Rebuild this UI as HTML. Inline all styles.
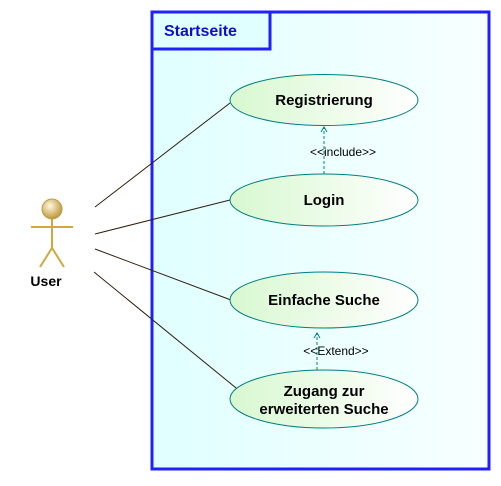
<!DOCTYPE html>
<html><head><style>body{margin:0;background:#fff}</style></head><body>
<svg width="501" height="481" xmlns="http://www.w3.org/2000/svg" font-family="Liberation Sans, Arial, sans-serif">
<defs>
<linearGradient id="g" x1="0" x2="1" y1="0" y2="0"><stop offset="0" stop-color="#d8f8d0"/><stop offset="1" stop-color="#ffffff"/></linearGradient>
<linearGradient id="bg" x1="0" x2="1"><stop offset="0" stop-color="#e0ffff"/><stop offset="1" stop-color="#f8ffff"/></linearGradient>
<radialGradient id="h" cx="0.4" cy="0.35" r="0.7"><stop offset="0" stop-color="#fff8e0"/><stop offset="1" stop-color="#b89030"/></radialGradient>
</defs>
<rect x="152" y="12" width="337" height="457" fill="url(#bg)" stroke="#2020ff" stroke-width="3"/>
<rect x="152" y="12" width="118" height="37" fill="#e0ffff" stroke="#2020ff" stroke-width="3"/>
<text x="164" y="36" font-size="16" font-weight="bold" fill="#1010c0">Startseite</text>
<g stroke="#302010" stroke-width="1">
<line x1="95" y1="207" x2="230" y2="103"/>
<line x1="95" y1="234" x2="230" y2="200"/>
<line x1="95" y1="249" x2="231" y2="300"/>
<line x1="94" y1="272" x2="241" y2="392"/>
</g>
<g stroke="#d0a840" stroke-width="2" fill="none">
<line x1="31" y1="227" x2="73" y2="227"/>
<line x1="52" y1="219" x2="52" y2="248"/>
<polyline points="40,267 52,248 64,267"/>
</g>
<circle cx="52" cy="209" r="10" fill="url(#h)" stroke="#c09a40"/>
<text x="46" y="286" font-size="14" font-weight="bold" text-anchor="middle">User</text>
<g stroke="#008080" stroke-width="1" fill="url(#g)">
<ellipse cx="324" cy="100" rx="94" ry="25.5"/>
<ellipse cx="324" cy="200" rx="94" ry="26"/>
<ellipse cx="324" cy="300" rx="94" ry="28"/>
<ellipse cx="324" cy="399" rx="94" ry="29"/>
</g>
<g stroke="#008080" stroke-dasharray="3,2" fill="none">
<line x1="324" y1="174" x2="324" y2="127"/>
<line x1="317" y1="370" x2="317" y2="333"/>
</g>
<g stroke="#008080" fill="none"><polyline points="321,132 324,127 327,132"/><polyline points="314,338 317,333 320,338"/></g>
<g font-size="12" fill="#000" text-anchor="middle">
<text x="343" y="156">&lt;&lt;include&gt;&gt;</text>
<text x="336" y="355">&lt;&lt;Extend&gt;&gt;</text>
</g>
<g font-size="15" font-weight="bold" text-anchor="middle">
<text x="324" y="105">Registrierung</text>
<text x="324" y="205">Login</text>
<text x="324" y="305">Einfache Suche</text>
<text x="324" y="396">Zugang zur</text>
<text x="324" y="414">erweiterten Suche</text>
</g>
</svg>
</body></html>
